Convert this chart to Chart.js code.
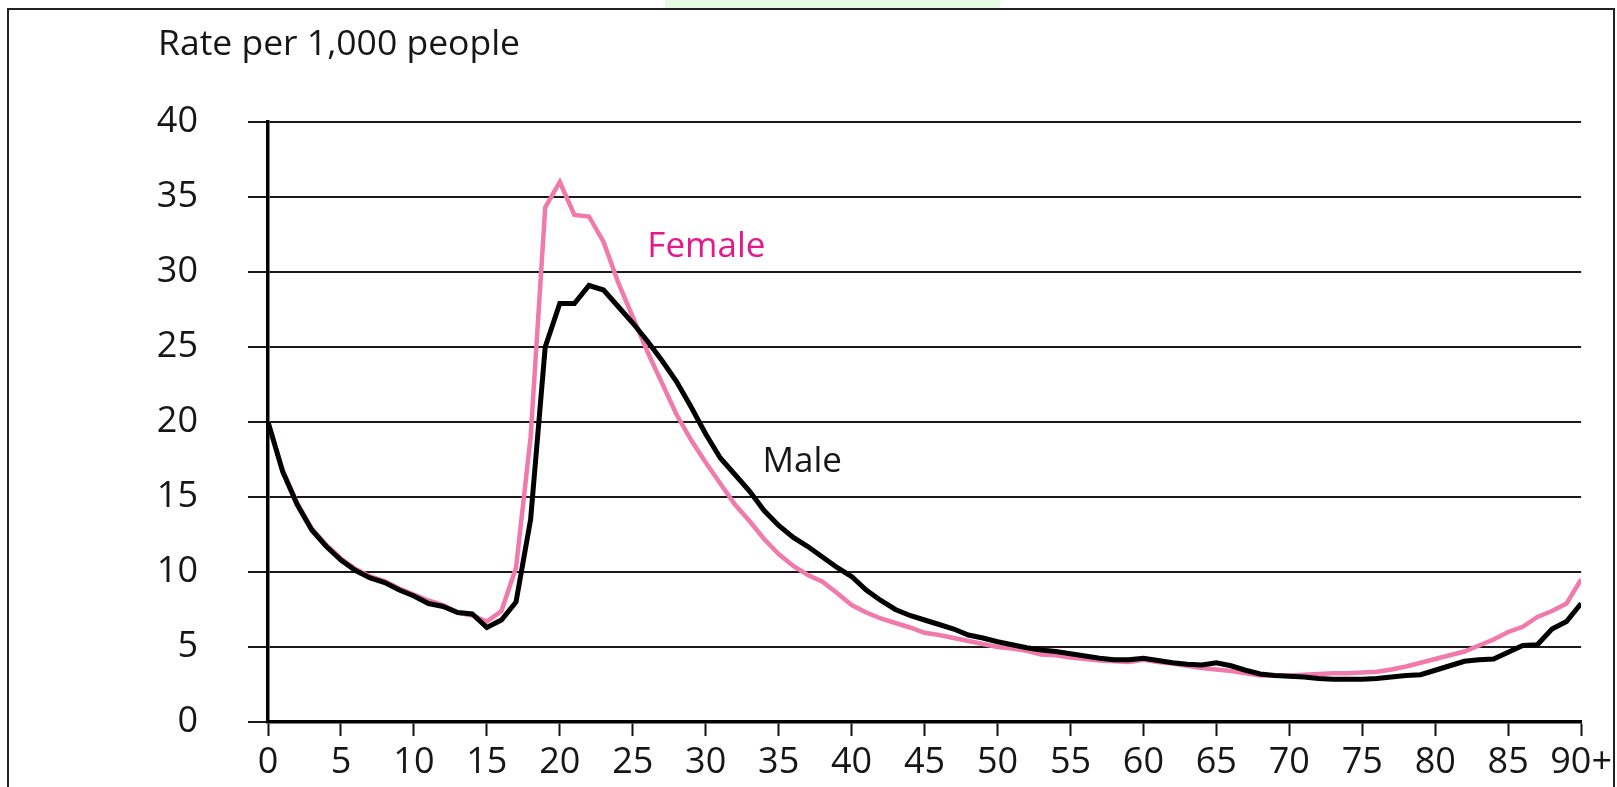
<!DOCTYPE html>
<html>
<head>
<meta charset="utf-8">
<script src="https://cdn.jsdelivr.net/npm/chart.js@4.4.1/dist/chart.umd.min.js"></script>
<style>
  html, body { margin: 0; padding: 0; background: #fff; overflow: hidden; }
  #wrap { position: relative; width: 1617px; height: 787px; }
  canvas { display: block; }
  #frame { position: absolute; left: 7px; top: 8px; width: 1604px; height: 800px;
           border: 2px solid #222; border-bottom: none; pointer-events: none; }
  #tab { position: absolute; left: 665px; top: 0; width: 335px; height: 8px; background: #e4fde0; }
</style>
</head>
<body>
<div id="wrap">
  <canvas id="chart" width="1617" height="787"></canvas>
  <div id="tab"></div>
  <div id="frame"></div>
</div>
<script>
// ages 0 .. 90+
const ages = [0,1,2,3,4,5,6,7,8,9,10,11,12,13,14,15,16,17,18,19,20,21,22,23,24,25,26,27,28,29,
  30,31,32,33,34,35,36,37,38,39,40,41,42,43,44,45,46,47,48,49,50,51,52,53,54,55,56,57,58,59,
  60,61,62,63,64,65,66,67,68,69,70,71,72,73,74,75,76,77,78,79,80,81,82,83,84,85,86,87,88,89,90];

// rate per 1,000 people
const female = [20, 16.8, 14.6, 12.9, 11.8, 10.9, 10.2, 9.7, 9.4, 8.9,
  8.5, 8.1, 7.8, 7.3, 7.1, 6.7, 7.4, 10.3, 19, 34.3,
  36, 33.8, 33.7, 32, 29.3, 27, 24.7, 22.6, 20.5, 18.8,
  17.3, 15.9, 14.5, 13.4, 12.2, 11.2, 10.4, 9.8, 9.35, 8.6,
  7.8, 7.3, 6.9, 6.6, 6.3, 5.95, 5.8, 5.6, 5.4, 5.2,
  5.0, 4.9, 4.75, 4.5, 4.45, 4.3, 4.2, 4.1, 4.05, 4.0,
  4.15, 4.0, 3.9, 3.75, 3.6, 3.5, 3.4, 3.25, 3.1, 3.1,
  3.1, 3.15, 3.2, 3.25, 3.25, 3.3, 3.35, 3.5, 3.7, 3.95,
  4.2, 4.45, 4.7, 5.1, 5.5, 6.0, 6.35, 7.0, 7.4, 7.9, 9.5];

const male = [20, 16.7, 14.5, 12.8, 11.7, 10.8, 10.1, 9.6, 9.3, 8.8,
  8.4, 7.9, 7.7, 7.3, 7.2, 6.3, 6.8, 8.0, 13.5, 25,
  27.9, 27.9, 29.1, 28.8, 27.7, 26.6, 25.4, 24.1, 22.7, 21.0,
  19.2, 17.6, 16.5, 15.4, 14.1, 13.1, 12.3, 11.7, 11.0, 10.3,
  9.7, 8.8, 8.1, 7.5, 7.1, 6.8, 6.5, 6.2, 5.8, 5.6,
  5.35, 5.15, 4.95, 4.8, 4.7, 4.55, 4.4, 4.25, 4.15, 4.15,
  4.25, 4.1, 3.95, 3.85, 3.8, 3.95, 3.75, 3.45, 3.2, 3.1,
  3.05, 3.0, 2.9, 2.85, 2.85, 2.85, 2.9, 3.0, 3.1, 3.15,
  3.45, 3.75, 4.05, 4.15, 4.2, 4.65, 5.1, 5.15, 6.2, 6.7, 7.9];

const yTicks = [0, 5, 10, 15, 20, 25, 30, 35, 40];
const xTicks = [0, 5, 10, 15, 20, 25, 30, 35, 40, 45, 50, 55, 60, 65, 70, 75, 80, 85, 90];
const xTickLabels = ['0','5','10','15','20','25','30','35','40','45','50','55','60','65','70','75','80','85','90+'];

const FONT = '"Open Sans", "Noto Sans", sans-serif';
const TEXT = '#161616';

// axis title and series labels
const annotations = {
  id: 'annotations',
  afterDraw(chart) {
    const ctx = chart.ctx;
    const xs = chart.scales.x, ys = chart.scales.y;
    ctx.save();
    ctx.textBaseline = 'alphabetic';
    ctx.textAlign = 'left';
    ctx.fillStyle = TEXT;
    ctx.font = '35.5px ' + FONT;
    ctx.fillText('Rate per 1,000 people', 158, 55);

    ctx.font = '35px ' + FONT;
    ctx.fillStyle = '#e5178b';
    ctx.fillText('Female', xs.getPixelForValue(26), ys.getPixelForValue(31));
    ctx.fillStyle = TEXT;
    ctx.fillText('Male', xs.getPixelForValue(33.9), ys.getPixelForValue(16.7));
    ctx.restore();
  }
};

new Chart(document.getElementById('chart'), {
  type: 'line',
  data: {
    datasets: [
      {
        label: 'Male',
        data: ages.map((a, i) => ({ x: a, y: male[i] })),
        borderColor: '#000',
        borderWidth: 5,
        pointRadius: 0,
        tension: 0
      },
      {
        label: 'Female',
        data: ages.map((a, i) => ({ x: a, y: female[i] })),
        borderColor: '#ef7aab',
        borderWidth: 4.5,
        pointRadius: 0,
        tension: 0
      }
    ]
  },
  options: {
    responsive: false,
    animation: false,
    devicePixelRatio: 1,
    layout: { padding: { top: 122, right: 32, bottom: 0, left: 0 } },
    plugins: {
      legend: { display: false },
      tooltip: { enabled: false },
      title: { display: false }
    },
    scales: {
      x: {
        type: 'linear',
        min: 0,
        max: 90,
        afterFit: (s) => { s.height = 65; },
        afterBuildTicks: (s) => { s.ticks = xTicks.map(v => ({ value: v })); },
        ticks: {
          autoSkip: false,
          maxRotation: 0,
          padding: 5,
          color: TEXT,
          font: { family: FONT, size: 36 },
          callback: (v) => xTickLabels[xTicks.indexOf(v)]
        },
        grid: {
          drawOnChartArea: false,
          drawTicks: true,
          tickLength: 14,
          tickColor: '#111',
          tickWidth: 2
        },
        border: { display: true, color: '#000', width: 3.5 }
      },
      y: {
        min: 0,
        max: 40,
        // big label padding would otherwise push the plot bottom up
        afterFit: (s) => { s.width = 268; s.paddingTop = 0; s.paddingBottom = 0; },
        afterBuildTicks: (s) => { s.ticks = yTicks.map(v => ({ value: v })); },
        ticks: {
          padding: 50,
          color: TEXT,
          font: { family: FONT, size: 36 }
        },
        grid: {
          color: '#1a1a1a',
          lineWidth: 2,
          drawTicks: true,
          tickLength: 20
        },
        border: { display: true, color: '#000', width: 3.5 }
      }
    }
  },
  plugins: [annotations]
});
</script>
</body>
</html>
